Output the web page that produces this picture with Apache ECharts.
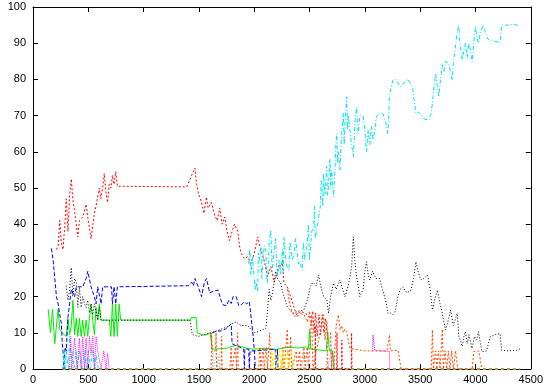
<!DOCTYPE html>
<html>
<head>
<meta charset="utf-8">
<script src="https://cdn.jsdelivr.net/npm/echarts@6/dist/echarts.min.js"></script>
<style>html,body{margin:0;padding:0;background:#fff}#c{width:546px;height:388px}</style>
</head>
<body>
<div id="c"></div>
<script>
const xTicks = [0,500,1000,1500,2000,2500,3000,3500,4000,4500];
const yTicks = [0,10,20,30,40,50,60,70,80,90,100];

const greenSeries = [[137,16.5],[158,10],[176,16.5],[197,7],[218,14],[227,16.5],[242,10.8],[271,9.8],[286,9.4],[301,9],[316,14],[331,9.5],[346,12],[361,19],[376,9.4],[391,14],[405,9],[420,14],[435,9],[450,13.5],[465,9],[480,13.5],[495,9],[510,14],[525,18],[540,13.5],[555,9.5],[570,17],[585,13.5],[600,18],[614,13.5],[690,13.5],[704,9],[718,18],[733,9],[748,18],[763,9],[778,18],[793,13.5],[1420,13.5],[1430,14.2],[1475,14.2],[1485,10],[1500,9.5],[1550,9.3],[1600,10],[1615,10],[1622,5.5],[1700,5.6],[1760,5.8],[1800,6.3],[1850,6.5],[1900,6],[1950,5.6],[2000,5.5],[2100,5.7],[2200,5.4],[2300,6],[2400,5.8],[2470,6.1],[2490,5.6],[2500,11],[2512,5.5],[2600,5.2],[2650,5],[2665,10],[2680,5],[2710,5],[2722,0]];

const redSeries = [[212,33],[227,34],[242,41],[256,35],[271,33],[286,39],[301,47],[316,38],[331,48],[346,52.5],[360,47],[376,43.5],[391,40],[405,36.5],[420,41],[450,42],[480,45.5],[495,42],[525,36],[555,43],[570,45],[599,50],[614,47],[630,50],[644,54],[659,49],[674,46],[689,51],[704,50],[718,53.5],[733,51],[748,54.5],[763,50.5],[1390,50.3],[1434,53.5],[1464,55.5],[1479,51],[1500,48],[1524,46],[1545,43],[1568,47.5],[1583,44.5],[1613,46],[1643,42.5],[1665,41],[1688,44.5],[1710,40],[1733,42],[1755,38],[1777,35.5],[1800,38],[1822,40],[1852,38],[1867,34],[1881,32],[1911,30.5],[1941,31],[1971,29.2],[2001,32],[2031,36.5],[2060,33],[2090,30],[2120,25.5],[2150,28.3],[2180,24],[2209,26.4],[2225,29],[2239,28.3],[2254,30],[2269,23.7],[2299,22.7],[2329,20],[2358,17.2],[2388,14.4],[2420,16],[2450,15.5],[2480,15],[2510,14],[2530,16],[2540,10],[2555,15.5],[2570,9],[2585,15],[2600,9.5],[2615,15],[2630,10],[2645,14],[2660,10],[2690,10],[2700,0]];

const redSpikes = [[2550,0],[2552,12],[2556,0],[2745,0],[2748,10],[2752,0],[2790,0],[2792,8],[2796,0],[2878,0],[2880,10],[2884,0]];

const blueSeries = [[167,33.3],[182,30],[197,30],[212,20],[227,18],[242,15],[256,12.6],[265,7],[271,5],[280,0],[290,6],[301,5],[316,14.4],[331,18],[346,22],[360,21.8],[376,20],[391,22.7],[450,22.7],[465,23],[480,25],[495,27],[510,27.3],[525,22.7],[540,22.7],[555,20],[570,18],[585,22.7],[600,22.7],[615,18],[630,22.7],[710,22.7],[718,18],[733,22.7],[748,18],[763,22.7],[1404,23],[1434,24],[1450,23],[1464,25],[1494,22.7],[1524,20],[1550,24],[1568,25],[1598,21],[1630,21.5],[1673,21.8],[1700,19],[1718,17.7],[1750,17.5],[1770,19],[1792,18.1],[1810,20],[1837,20],[1860,17.5],[1881,17.7],[1911,18.6],[1930,18],[1956,18.6],[1986,10.3],[2001,5.2],[2010,0]];

const blueLower = [[1620,10],[1660,10.5],[1703,10.5],[1740,11],[1792,12.5],[1800,7],[1830,6.5],[1870,6],[1905,5.5],[1911,0],[1915,5.5],[1950,5.5],[1956,0],[1962,5],[2010,5],[2190,5.5],[2195,0],[2210,5.5],[2215,0]];

const blackSeries = [[300,23],[316,19],[331,22],[346,28],[360,20],[376,25],[391,24],[405,17],[420,22.5],[435,17],[450,20],[465,18],[480,17],[495,19],[510,15.5],[525,18],[540,15],[555,18],[570,18],[585,13.5],[600,17],[615,13.5],[1420,13.5],[1440,9.5],[1494,9],[1550,9.5],[1610,10],[1660,10.5],[1700,11],[1762,11.7],[1800,12.5],[1834,13],[1880,12],[1941,12],[1970,11],[2001,10],[2050,10.5],[2105,11.2],[2120,16],[2135,22],[2150,19],[2165,21],[2180,24],[2194,27],[2210,25],[2239,23.7],[2260,21],[2280,19],[2299,17.2],[2330,16],[2358,15.4],[2400,16],[2448,16.3],[2480,19],[2507,22.7],[2530,24],[2560,23],[2582,26],[2600,23],[2627,20],[2657,19],[2672,15.4],[2690,20],[2717,23.7],[2740,22],[2775,24.6],[2800,22],[2820,20],[2850,23],[2880,28],[2896,36.5],[2910,30],[2925,25.5],[2940,23],[2954,20],[2985,22],[3000,27],[3015,29.6],[3030,26],[3044,24.6],[3070,27],[3100,25],[3133,25],[3150,23],[3178,20],[3195,18],[3208,15.4],[3230,15.5],[3253,15],[3275,16],[3298,20],[3320,22],[3343,22.7],[3380,21],[3417,21.8],[3440,25],[3462,29.6],[3480,27],[3507,24.6],[3530,25],[3567,26],[3590,22],[3611,16.3],[3630,19],[3656,21.8],[3680,18],[3700,15.4],[3715,13],[3730,10.8],[3750,13],[3775,16.3],[3800,12],[3835,15.4],[3850,8.9],[3865,8],[3880,6.2],[3895,9],[3909,10.3],[3925,7],[3940,9.5],[3969,5.7],[3990,9],[4010,8],[4028,10.3],[4045,7],[4059,4.8],[4100,5],[4133,8.9],[4180,9.5],[4222,9.8],[4237,5.2],[4300,5],[4372,5.2],[4400,5.5]];

const cyanSeries = [[1950,29],[1960,33],[1970,26],[1985,31],[2001,31],[2008,22],[2015,24],[2031,21.4],[2038,32],[2045,30],[2060,33.8],[2068,25],[2075,28],[2090,34],[2105,32.9],[2112,26],[2120,23.7],[2135,35],[2150,38.4],[2158,30],[2165,28],[2180,32.9],[2194,36],[2202,29],[2209,25.5],[2225,30],[2239,26],[2255,33],[2262,27],[2269,36.5],[2285,30],[2299,28],[2314,27.3],[2322,35],[2330,34],[2345,30],[2360,32],[2374,36],[2388,36.5],[2400,29],[2410,30],[2433,27.3],[2445,35],[2455,30],[2478,34.7],[2490,40],[2500,30],[2520,38],[2538,39.3],[2545,45],[2552,36],[2567,35.6],[2582,42],[2597,44.8],[2605,52],[2612,50],[2620,45],[2627,54],[2640,48],[2655,56],[2662,48],[2670,50],[2685,58],[2692,50],[2700,55],[2717,47.6],[2730,55],[2738,62],[2746,65],[2753,57],[2760,60],[2775,55],[2790,65],[2806,70.6],[2813,62],[2820,68],[2836,75.2],[2843,66],[2850,70],[2865,69.7],[2880,62],[2897,58.6],[2910,68],[2925,72.4],[2940,65],[2955,70],[2985,69.7],[3000,66],[3015,60],[3030,66],[3045,62],[3060,67],[3074,63.3],[3090,66],[3104,69.7],[3134,70.7],[3163,70.6],[3190,68],[3208,65],[3223,75.2],[3238,78],[3253,79.8],[3280,80],[3300,79],[3320,78],[3342,78.5],[3365,79.5],[3387,80.1],[3410,79],[3432,77.5],[3447,74],[3462,70.7],[3485,71],[3507,70.2],[3540,69],[3578,68.8],[3595,70],[3611,73.4],[3625,78],[3640,81.7],[3655,78],[3668,75.2],[3684,80],[3700,84],[3715,82],[3730,85],[3757,84.4],[3775,82],[3790,79.8],[3802,85.4],[3815,88],[3830,92],[3849,95],[3860,90],[3880,85.4],[3895,88],[3909,90],[3925,86],[3940,90],[3955,88],[3969,84.9],[3985,90],[3999,94.6],[4012,92],[4026,90],[4045,93],[4071,95],[4090,93],[4115,91],[4150,90.8],[4180,90.5],[4222,90.1],[4237,95],[4300,95],[4350,95.2],[4401,94.8]];

const cyanEarly = [[270,0],[280,5],[290,0],[300,5],[320,0],[330,9],[346,3],[360,5],[370,0],[390,5],[400,0],[420,5],[440,0],[470,5],[480,0],[500,5],[520,0],[540,5],[560,0],[570,4],[590,0]];

const magentaEarly = [[330,0],[340,9],[350,0],[376,8.5],[391,9],[400,0],[420,8.5],[435,0],[450,9],[465,0],[480,8.5],[495,0],[510,9],[525,4],[540,9],[555,0],[570,9],[585,5],[600,4.8],[615,0],[640,5],[660,0],[674,4.3],[689,0]];

const magentaLate = [[3070,5],[3074,9.4],[3089,5.2],[3150,5],[3223,4.8],[3225,0]];

const orangeMid = [[1610,0],[1615,10],[1620,5],[1650,5],[1655,10],[1660,0],[1700,0],[1705,9],[1710,0],[1780,0],[1790,6],[1800,0],[1830,6],[1840,0],[1850,10],[1855,0],[2040,0],[2050,6],[2060,0],[2080,6],[2090,0],[2110,6],[2120,0],[2140,10],[2150,0],[2250,0],[2260,6],[2270,0],[2299,11],[2310,0],[2329,9],[2340,0],[2380,5],[2390,0],[2410,5],[2420,0],[2450,6],[2460,0],[2480,6],[2490,0],[2520,15],[2530,0],[2627,15],[2640,8],[2657,13],[2665,0]];

const orangeUpper = [[2300,22],[2320,18],[2340,16],[2360,14.5],[2400,15.5],[2450,15],[2480,13],[2500,16],[2510,12],[2530,14]];

const orangeLate = [[2700,0],[2705,5],[2720,0],[2740,12],[2761,15],[2776,10.8],[2790,12],[2805,10],[2820,11],[2836,10.3],[2850,8],[2866,5.7],[2880,5.2],[3000,5],[3100,5],[3200,5],[3223,9.4],[3230,5],[3300,5.2],[3313,5],[3328,0],[3600,0],[3611,10.8],[3620,0],[3640,5],[3650,0],[3665,5],[3680,0],[3700,11],[3710,0],[3725,5],[3740,0],[3755,5],[3770,0],[3785,5],[3800,0],[3820,5],[3840,0],[3970,0],[3985,4.8],[4000,5],[4030,5],[4059,0]];

const graySpikes = [[1620,0],[1625,5],[1630,0],[1660,5],[1670,0],[1680,4],[1690,0],[2440,0],[2450,5],[2460,0],[2650,0],[2660,5],[2670,0],[2690,5],[2700,0]];

const yellowSpikes = [[2150,0],[2160,5],[2170,0],[2190,5],[2200,0],[2230,5],[2240,0],[2260,5],[2270,0],[2300,5],[2310,0],[2340,5],[2350,0]];

const zeroBand = [[270,0],[4400,0]];

function mk(name, data, color, dash, width) {
  return {
    name: name, type: 'line', data: data, showSymbol: false, symbol: 'none',
    lineStyle: { color: color, width: width || 1, type: dash },
    silent: true, animation: false
  };
}

const axisCommon = {
  type: 'value',
  axisLine: { show: true, onZero: false, lineStyle: { color: '#000', width: 1 } },
  axisTick: { show: true, inside: true, length: 5, lineStyle: { color: '#000' } },
  splitLine: { show: false }
};

const chart = echarts.init(document.getElementById('c'), null, { renderer: 'canvas' });
chart.setOption({
  backgroundColor: '#fff',
  animation: false,
  grid: { left: 33, right: 10, top: 7, bottom: 19, containLabel: false },
  xAxis: [
    Object.assign({}, axisCommon, { min: xTicks[0], max: xTicks[xTicks.length-1], interval: 500, position: 'bottom',
      axisLabel: { color: '#000', fontSize: 11, fontFamily: 'Liberation Sans', margin: 5, formatter: function (v) { return String(v); } } }),
    Object.assign({}, axisCommon, { min: xTicks[0], max: xTicks[xTicks.length-1], interval: 500, position: 'top',
      axisLabel: { show: false } })
  ],
  yAxis: [
    Object.assign({}, axisCommon, { min: yTicks[0], max: yTicks[yTicks.length-1], interval: 10, position: 'left',
      axisLabel: { color: '#000', fontSize: 11, fontFamily: 'Liberation Sans', margin: 7, formatter: function (v) { return String(v); } } }),
    Object.assign({}, axisCommon, { min: yTicks[0], max: yTicks[yTicks.length-1], interval: 10, position: 'right',
      axisLabel: { show: false } })
  ],
  series: [
    mk('zero1', zeroBand, '#b0a040', [3, 3], 2),
    mk('green', greenSeries, '#00ee00', 'solid'),
    mk('red', redSeries, '#ff0000', [2, 2]),
    mk('redSpikes', redSpikes, '#ff0000', [2, 2]),
    mk('blue', blueSeries, '#0000ff', [4, 2]),
    mk('blueLower', blueLower, '#0000ff', [4, 2]),
    mk('black', blackSeries, '#000000', [1, 2]),
    mk('cyan', cyanSeries, '#00e5ee', [4, 2, 1, 2]),
    mk('cyanEarly', cyanEarly, '#00e5ee', [4, 2, 1, 2]),
    mk('magentaEarly', magentaEarly, '#ff00ff', [1, 1]),
    mk('magentaLate', magentaLate, '#ff00ff', [1, 1]),
    mk('orangeMid', orangeMid, '#ff4500', [2, 2]),
    mk('orangeUpper', orangeUpper, '#ff4500', [2, 2]),
    mk('orangeLate', orangeLate, '#ff4500', [2, 2]),
    mk('gray', graySpikes, '#a0a0a0', [1, 2]),
    mk('yellow', yellowSpikes, '#f0f000', [3, 2])
  ]
});
</script>
</body>
</html>
